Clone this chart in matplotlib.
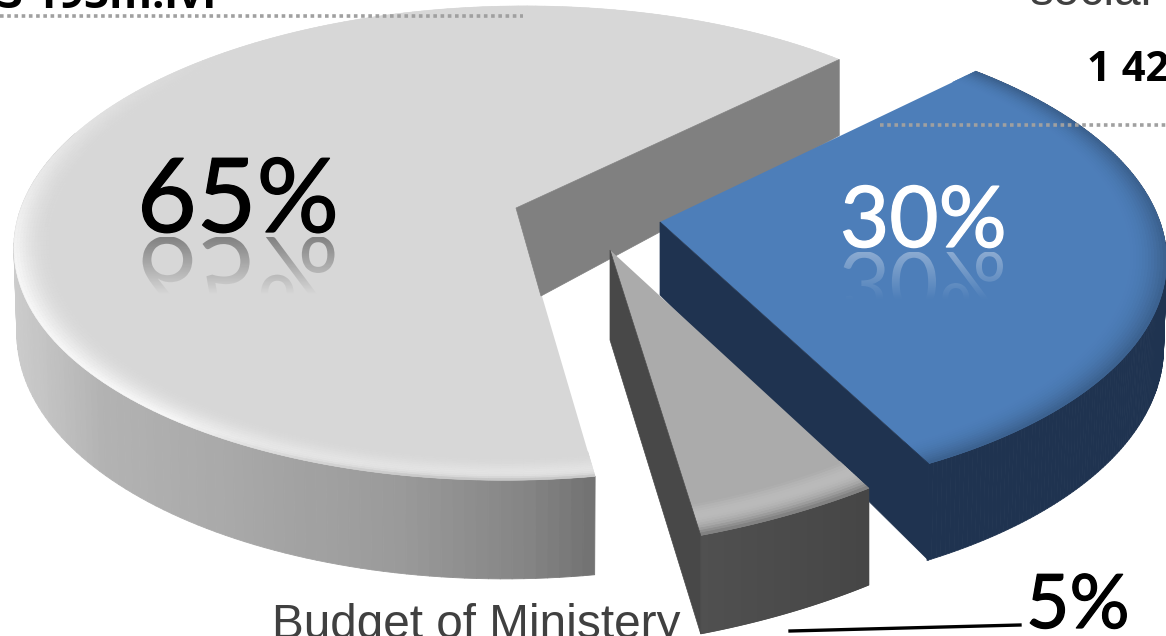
import numpy as np
import matplotlib
matplotlib.use("Agg")
import matplotlib.pyplot as plt
import matplotlib.patheffects as pe
from matplotlib.collections import PolyCollection
from matplotlib.colors import to_rgb
from matplotlib.patches import PathPatch, Polygon
from matplotlib.textpath import TextPath
from matplotlib.font_manager import FontProperties
from matplotlib.transforms import Affine2D

# data
names = ["Other", "Budget of Ministery", "social"]
shares = [65, 5, 30]
share_labels = ["65%", "5%", "30%"]
top_left_value = "3 193m.lvl"
social_value = "1 42"

# style
apex = [(516, 208), (610, 250), (660, 222)]
top_col = ["#d7d7d7", "#ababab", "#4d7eb9"]
wall_col = ["#808080", "#484848", "#1f3350"]
wall_foot = [(25, 88), (0, 90), (0, 73)]
shear = [10, 0, -7]
xscale = [1.0, 1.0, 1.01]
yscale = [1.0, 1.0, 1.015]
y_off = [(0, 0), (26, -57), (0, 0)]
grey_x = [14, 100, 200, 400, 520, 594]
grey_v = [0.80, 0.70, 0.67, 0.60, 0.52, 0.44]
RX, RY, K, D = 495, 232, 0.148, 84
START = 45

fig = plt.figure(figsize=(11.66, 6.36), dpi=100)
ax = fig.add_axes([0, 0, 1, 1])
ax.set_xlim(0, 1166)
ax.set_ylim(636, 0)
ax.axis("off")


def proj(i, a, r=1.0):
    c = apex[i]
    t = np.radians(a)
    u, v = r * np.cos(t), r * np.sin(t)
    w = 1 + K * v
    x = c[0] + xscale[i] * RX * u / w + shear[i] * v / w
    y = c[1] - yscale[i] * RY * v / w + r * y_off[i][0] + y_off[i][1] * u
    return x, y


def depth(a, r=1.0):
    return D / (1 + K * r * np.sin(np.radians(a)))


def mix(c1, c2, t):
    return tuple((1 - t) * np.array(to_rgb(c1)) + t * np.array(to_rgb(c2)))


def side_colour(i, xv):
    if i == 0:
        g = float(np.interp(xv, grey_x, grey_v))
        return (g, g, g)
    if i == 1:
        return mix("#505050", "#464646", np.clip((xv - 700) / 165, 0, 1))
    return to_rgb("#1f3350")


def draw_slice(i, a0, a1, z):
    c = apex[i]
    angs = np.linspace(a0, a1, 200)
    x, y = proj(i, angs)
    d = depth(angs)
    shrink = 0.006 if i != 1 else 0.0
    xb = x + (c[0] - x) * shrink
    polys, cols = [], []
    for j in range(len(angs) - 1):
        if np.sin(np.radians(angs[j])) > 0.35 and i != 2:
            continue
        polys.append([(x[j], y[j]), (x[j + 1], y[j + 1]),
                      (xb[j + 1], y[j + 1] + d[j + 1]), (xb[j], y[j] + d[j])])
        cols.append(side_colour(i, x[j]))
    ax.add_collection(PolyCollection(polys, facecolors=cols, edgecolors=cols, linewidths=0.6, zorder=z))
    base = top_col[i]
    ax.add_patch(Polygon(np.column_stack([np.r_[c[0], x], np.r_[c[1], y]]),
                         fc=base, ec="none", zorder=z + 1))
    r0 = 0.92 if i != 1 else 0.90
    rs = np.linspace(r0, 1.0, 15)
    polys, cols = [], []
    for k in range(len(rs) - 1):
        xa, ya = proj(i, angs, rs[k])
        xc, yc = proj(i, angs, rs[k + 1])
        t = (rs[k] - r0) / (1 - r0)
        for j in range(len(angs) - 1):
            s = np.sin(np.radians(angs[j]))
            if i == 2:
                light = 0
                dark = 0.26 * t ** 2
            elif i == 1:
                light = 0.2 * np.sin(np.pi * min(t * 1.2, 1))
                dark = 0.35 * t ** 5
            else:
                f = np.clip(0.75 - 1.0 * s, 0, 1)
                light = 1.0 * f * t ** 2.0 * (1 - 0.3 * t ** 14)
                dark = min(0.3, 1.5 * np.clip(-s - 0.8, 0, 1) * t ** 6)
            col = mix(mix(base, "#ffffff", light), "#000000", dark)
            polys.append([(xa[j], ya[j]), (xa[j + 1], ya[j + 1]), (xc[j + 1], yc[j + 1]), (xc[j], yc[j])])
            cols.append(col)
    ax.add_collection(PolyCollection(polys, facecolors=cols, edgecolors=cols, linewidths=0.4, zorder=z + 2))


def wall(i, a, z):
    c = apex[i]
    xe, ye = proj(i, a)
    de = depth(a)
    foot = wall_foot[i]
    pts = [c, (xe, ye), (xe, ye + de), (c[0] + foot[0], c[1] + foot[1])]
    ax.add_patch(Polygon(pts, fc=wall_col[i], ec=wall_col[i], lw=0.5, zorder=z))


edges = START + np.cumsum([0] + shares) * 3.6
draw_slice(0, edges[0], edges[1], 1)
wall(0, edges[0], 4)
draw_slice(2, edges[2], edges[3], 5)
wall(2, edges[2], 8)
draw_slice(1, edges[1], edges[2], 10)
wall(1, edges[1], 14)

# dotted leaders
dot = dict(color="#a0a0a0", lw=2.6, ls=(0, (1, 1)), zorder=20)
ax.plot([0, 523], [16, 16], **dot)
ax.plot([880, 1166], [125, 125], **dot)
ax.plot([790, 1020], [631, 625], color="black", lw=2.4, zorder=20)

# texts
ax.text(-2, 8, top_left_value, fontsize=31.5, fontweight="bold", family="Open Sans", color="black", va="baseline", zorder=21)
ax.text(1087, 81, social_value, fontsize=30, fontweight="bold", family="Open Sans", color="black", va="baseline", zorder=21)
ax.text(1030, 5, names[2], fontsize=34.4, family="Liberation Sans", color="#404040", va="baseline", zorder=21)
ax.text(272, 638, names[1], fontsize=34.4, family="Liberation Sans", color="#404040", va="baseline", zorder=21)

big = [(0, 137, 232, 103, "black", 0.40), (2, 840, 247, 85, "white", 0.35), (1, 1026, 628, 75, "black", 0)]
fp = FontProperties(family="Lato")
for idx, x0, base, size_px, col, alpha in big:
    ax.text(x0, base, share_labels[idx], fontsize=size_px * 0.72, family="Lato", color=col,
            va="baseline", ha="left", zorder=21,
            path_effects=[pe.withStroke(linewidth=0.9, foreground=col)])
    if alpha == 0:
        continue
    tp = TextPath((0, 0), share_labels[idx], size=size_px, prop=fp)
    tr = Affine2D().translate(x0, base + 5) + ax.transData
    patch = PathPatch(tp, transform=tr, fc="none", ec="none", zorder=21)
    ax.add_patch(patch)
    rh = size_px * 0.56
    grad = np.zeros((64, 2, 4))
    grad[..., :3] = to_rgb(col)
    grad[..., 3] = np.linspace(alpha, 0.0, 64)[:, None]
    bb = tp.get_extents()
    im = ax.imshow(grad, extent=(x0 - 5, x0 + bb.width + 15, base + 5 + rh, base + 5),
                   aspect="auto", zorder=21, interpolation="bilinear")
    im.set_clip_path(patch)

ax.set_xlim(0, 1166)
ax.set_ylim(636, 0)
fig.savefig("out.png", dpi=100, facecolor="white")
